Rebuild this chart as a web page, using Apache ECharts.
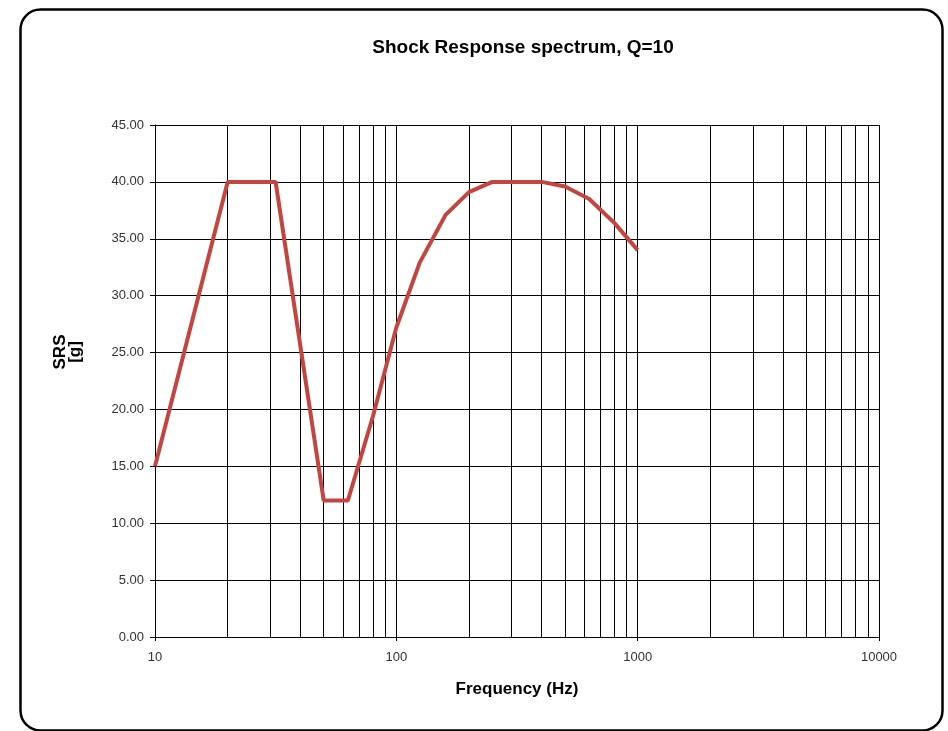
<!DOCTYPE html>
<html>
<head>
<meta charset="utf-8">
<script src="https://cdn.jsdelivr.net/npm/echarts@6/dist/echarts.min.js"></script>
<style>
html,body{margin:0;padding:0;background:#fff;}
#chart{width:948px;height:731px;}
</style>
</head>
<body>
<div id="chart"></div>
<script>
var freqs = [10, 20, 31.6, 50, 63, 80, 100, 125, 160, 200, 250, 315, 400, 500, 630, 800, 1000];
var srs = [15, 40, 40, 12, 12, 19.4, 27.2, 32.9, 37.1, 39.1, 40, 40, 40, 39.6, 38.5, 36.4, 34.0];
var minorGrid = [20, 30, 40, 50, 60, 70, 80, 90, 200, 300, 400, 500, 600, 700, 800, 900, 2000, 3000, 4000, 5000, 6000, 7000, 8000, 9000];
var titleText = 'Shock Response spectrum, Q=10';
var xName = 'Frequency (Hz)';
var yName = 'SRS\n[g]';

var chart = echarts.init(document.getElementById('chart'));
var ff = 'Liberation Sans, Arial, sans-serif';
chart.setOption({
  animation: false,
  backgroundColor: '#fff',
  title: {
    text: titleText,
    left: 518,
    top: 33,
    textAlign: 'center',
    textStyle: {fontFamily: ff, fontSize: 19, fontWeight: 'bold', color: '#000'}
  },
  graphic: [
    {type: 'rect', left: 18, top: 7, shape: {width: 922, height: 721, r: 20}, style: {fill: 'none', stroke: '#000', lineWidth: 2.5}, z: 100},
    {type: 'text', x: 68, y: 352, rotation: Math.PI / 2,
     style: {text: yName, fontFamily: ff, fontSize: 17, fontWeight: 'bold', fill: '#000', align: 'center', verticalAlign: 'middle', lineHeight: 15}}
  ],
  grid: {left: 155, right: 69, top: 125, bottom: 94},
  xAxis: {
    type: 'log', logBase: 10, min: 10, max: 10000,
    name: xName, nameLocation: 'middle', nameGap: 44,
    nameTextStyle: {fontFamily: ff, fontSize: 17, fontWeight: 'bold', color: '#000'},
    axisLine: {lineStyle: {color: '#000', width: 1}},
    axisTick: {show: true, length: 4, lineStyle: {color: '#000'}},
    axisLabel: {fontFamily: ff, fontSize: 13, color: '#333', margin: 14, formatter: function (v) { return String(Math.round(v)); }},
    splitLine: {show: true, lineStyle: {color: '#000', width: 1}}
  },
  yAxis: {
    type: 'value', min: 0, max: 45, interval: 5,
    axisLine: {show: true, lineStyle: {color: '#000', width: 1}},
    axisTick: {show: true, length: 5, lineStyle: {color: '#000'}},
    axisLabel: {fontFamily: ff, fontSize: 13, color: '#333', margin: 11, formatter: function (v) { return v.toFixed(2); }},
    splitLine: {show: true, lineStyle: {color: '#000', width: 1}}
  },
  series: [{
    type: 'line',
    data: freqs.map(function (f, i) { return [f, srs[i]]; }),
    showSymbol: false,
    lineStyle: {color: '#c4453f', width: 4},
    z: 10,
    markLine: {
      silent: true, symbol: 'none', animation: false,
      label: {show: false},
      lineStyle: {color: '#000', width: 1, type: 'solid'},
      data: minorGrid.map(function (v) { return {xAxis: v}; }),
      z: 1
    }
  }]
});
</script>
</body>
</html>
